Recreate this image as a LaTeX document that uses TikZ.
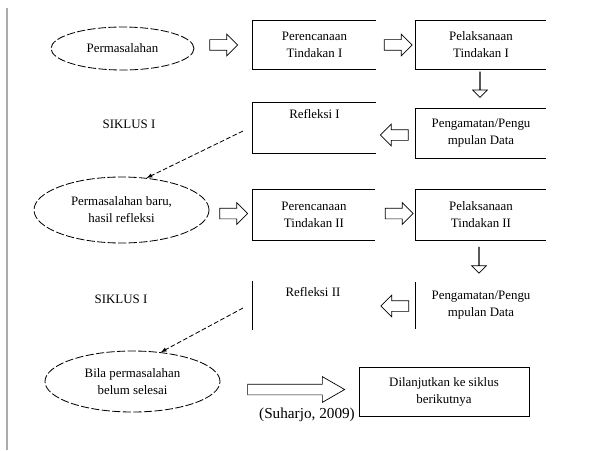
\documentclass[tikz,border=0pt]{standalone}
\usepackage{fontspec}
\setmainfont{Liberation Serif}
\usetikzlibrary{shapes.geometric,shapes.arrows}
\begin{document}
\begin{tikzpicture}[x=0.03cm, y=-0.03cm]
\tikzset{kotak/.style={inner sep=0pt, align=center, font=\fontsize{11}{14.5}\selectfont},
  elips/.style={draw, ellipse, dash pattern=on 7pt off 2pt, line width=0.7pt, inner sep=0pt, align=center, font=\fontsize{11}{14.5}\selectfont},
  panah/.style={draw, single arrow, line width=0.6pt, inner xsep=0pt, inner ysep=0.15cm, single arrow head extend=0.165cm, minimum height=0.84cm},
  turun/.style={panah, shape border rotate=270, inner ysep=0.21cm, single arrow head extend=0.21cm, minimum height=0.76cm},
  garis/.style={line width=0.8pt},
  sambung/.style={dash pattern=on 4pt off 2pt, line width=0.7pt, -latex}}
\useasboundingbox (0,0) rectangle (596,450);
\draw[line width=2.5pt, gray!65] (7,8) -- (7,450);
% siklus pertama
\node[elips, minimum width=4.29cm, minimum height=1.29cm] (E1) at (122.5,48.5) {Permasalahan};
\node[kotak, minimum width=3.69cm, minimum height=1.44cm] (P1) at (314.5,45) {Perencanaan\\Tindakan I};
\node[kotak, minimum width=3.9cm, minimum height=1.44cm] (L1) at (481,45) {Pelaksanaan\\Tindakan I};
\node[kotak, minimum width=3.69cm, minimum height=1.5cm] (R1) at (314.5,128) {};
\node[kotak] (tR1) at (314.5,114) {Refleksi I};
\node[kotak, minimum width=3.9cm, minimum height=1.47cm] (M1) at (481,133.5) {Pengamatan/Pengu\\mpulan Data};
\node[kotak] (S1) at (129,124) {SIKLUS I};
\draw[garis] (P1.north east) -- (P1.north west) -- (P1.south west) -- (P1.south east);
\draw[garis] (L1.north east) -- (L1.north west) -- (L1.south west) -- (L1.south east);
\draw[garis] (R1.north east) -- (R1.north west) -- (R1.south west) -- (R1.south east);
\draw[garis] (M1.north east) -- (M1.north west) -- (M1.south west) -- (M1.south east);
\node[panah] (A1) at (221,45) {};
\node[panah] (A2) at (395.5,45) {};
\node[turun] (D1) at (480,84.5) {};
\node[panah, shape border rotate=180] (A3) at (397,135) {};
% siklus kedua
\node[elips, minimum width=5.25cm, minimum height=1.98cm] (E2) at (121.5,210) {Permasalahan baru,\\hasil refleksi};
\node[kotak, minimum width=3.66cm, minimum height=1.5cm] (P2) at (314,215) {Perencanaan\\Tindakan II};
\node[kotak, minimum width=3.9cm, minimum height=1.5cm] (L2) at (481,215) {Pelaksanaan\\Tindakan II};
\node[kotak, minimum width=3.69cm, minimum height=1.47cm] (R2) at (314.5,305.5) {};
\node[kotak] (tR2) at (313,292) {Refleksi II};
\node[kotak, minimum width=3.9cm, minimum height=1.41cm] (M2) at (481,305.5) {Pengamatan/Pengu\\mpulan Data};
\node[kotak] (S2) at (121,299) {SIKLUS I};
\draw[garis] (P2.north east) -- (P2.north west) -- (P2.south west) -- (P2.south east);
\draw[garis] (L2.north east) -- (L2.north west) -- (L2.south west) -- (L2.south east);
\draw[garis] (R2.north west) -- (R2.south west);
\draw[garis] (M2.north west) -- (M2.south west);
\node[panah] (A4) at (231,213.5) {};
\node[panah] (A5) at (396.5,213.5) {};
\node[turun, minimum height=0.78cm] (D2) at (479,260) {};
\node[panah, shape border rotate=180] (A6) at (397.5,306) {};
\coordinate (k1) at (243,131);
\draw[sambung] (k1) -- (E2.52);
% penutup
\node[elips, minimum width=5.25cm, minimum height=1.83cm] (E3) at (132.5,381.5) {Bila permasalahan\\belum selesai};
\node[draw, garis, kotak, minimum width=5.1cm, minimum height=1.47cm] (T) at (444,391.5) {Dilanjutkan ke siklus\\berikutnya};
\node[panah, minimum height=2.91cm, single arrow head extend=0.225cm, single arrow tip angle=60] (A7) at (291.5,389.5) {};
\node[font=\fontsize{13}{15}\selectfont, inner sep=0pt] (sumber) at (307,415) {(Suharjo, 2009)};
\coordinate (k2) at (243,308);
\draw[sambung] (k2) -- (E3.46);
\end{tikzpicture}
\end{document}
